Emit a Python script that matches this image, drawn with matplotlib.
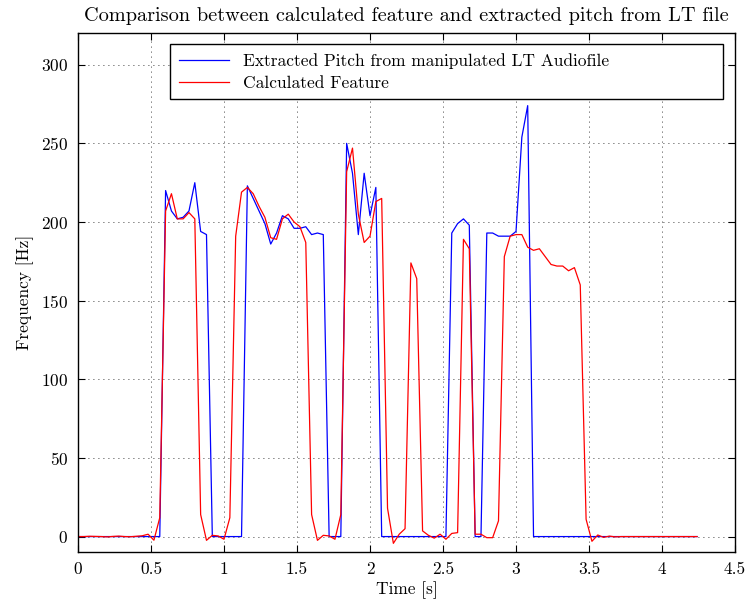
import numpy as np
import matplotlib
matplotlib.use("Agg")
import matplotlib.pyplot as plt
from matplotlib.ticker import FormatStrFormatter

plt.rcParams['font.family'] = 'serif'
plt.rcParams['font.serif'] = ['cmr10', 'DejaVu Serif']
plt.rcParams['mathtext.fontset'] = 'cm'
plt.rcParams['axes.formatter.use_mathtext'] = True

# frame hop of the pitch tracker (s)
hop = 0.04

# extracted pitch (Hz), one value per frame
pitch_lt = [0, 0, 0, 0, 0, 0, 0, 0, 0, 0, 0, 0, 0, 0,
            0, 220, 207, 202, 203, 207, 225, 194, 192,
            0, 0, 0, 0, 0, 0,
            223, 215, 207, 199, 186, 193, 204, 202, 196, 196, 197, 192, 193, 192,
            0, 0, 0,
            250, 231, 192, 231, 204, 222,
            0, 0, 0, 0, 0, 0, 0, 0, 0, 0, 0, 0,
            193, 199, 202, 198,
            0, 0,
            193, 193, 191, 191, 191, 194, 254, 274,
            0, 0, 0, 0, 0, 0, 0, 0, 0, 0, 0, 0, 0, 0, 0, 0, 0, 0, 0, 0,
            0, 0, 0, 0, 0, 0, 0, 0, 0]

# calculated feature (Hz)
feature = [0, 0, 0.2, 0.1, 0, -0.2, 0.1, 0.3, 0, -0.1, 0.2, 0.5, 1.5, -2.3,
           12, 207, 218, 202, 202, 206, 202, 14, -2.4,
           0.8, 0.4, -1.7, 12, 191, 219,
           222, 218, 210, 203, 190, 189, 202, 205, 200, 197, 187, 14, -2.4, 0.8,
           0.4, -1.7, 14,
           232, 247, 205, 187, 191, 213,
           215, 18, -4.3, 1.5, 5, 174, 164, 3.6, 0.8, -1, 1.5, -1.7,
           2, 2.5, 189, 183,
           1.5, 1.5,
           -0.7, -0.7, 10, 178, 191, 192, 192, 184,
           182, 183, 178, 173, 172, 172, 169, 171, 160, 11, -3, 1, -0.5, 0.3, -0.2, 0, 0, 0, 0, 0, 0,
           0, 0, 0, 0, 0, 0, 0, 0]

t = np.arange(len(pitch_lt)) * hop

fig = plt.figure(figsize=(7.45, 6.04), dpi=100)
ax = fig.add_axes([0.1047, 0.0856, 0.8819, 0.8593])

ax.plot(t, pitch_lt, color=(0, 0, 1), lw=0.9, label="Extracted Pitch from manipulated LT Audiofile")
ax.plot(t, feature, color=(1, 0, 0), lw=0.9, label="Calculated Feature")

ax.set_xlim(0, 4.5)
ax.set_ylim(-10, 320)
ax.set_xticks(np.arange(0, 4.51, 0.5))
ax.set_yticks(np.arange(0, 301, 50))
ax.xaxis.set_major_formatter(FormatStrFormatter('%g'))
ax.tick_params(direction='in', top=True, right=True, length=5, labelsize=12.5, pad=7)
ax.grid(True, color='k', linestyle=(0, (1, 5)), linewidth=0.6)
for s in ax.spines.values():
    s.set_linewidth(1.0)

ax.set_title("Comparison between calculated feature and extracted pitch from LT file", fontsize=14.6, pad=9)
ax.set_xlabel("Time [s]", fontsize=12.5, labelpad=3)
ax.set_ylabel("Frequency [Hz]", fontsize=12.5, labelpad=5)

leg = ax.legend(loc='upper left', bbox_to_anchor=(0.140, 0.60, 0.842, 0.379), mode='expand',
                borderaxespad=0, fancybox=False, edgecolor='k', framealpha=1,
                fontsize=12.5, handlelength=2.9, handletextpad=0.8, labelspacing=0.38,
                borderpad=0.5)
leg.get_frame().set_linewidth(1.0)

fig.savefig("out.png", dpi=100)
